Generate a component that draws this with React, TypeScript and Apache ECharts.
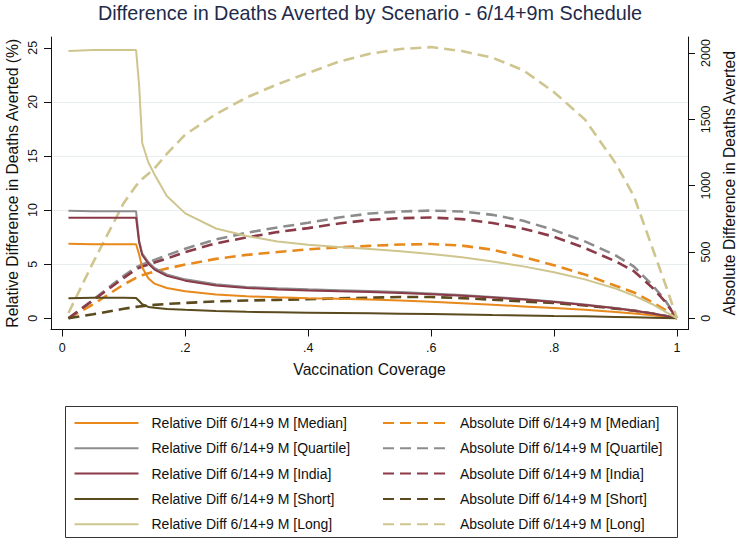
import React, { useEffect, useRef } from "react";
import * as echarts from "echarts";

const coverage = [0.01, 0.05, 0.1, 0.12, 0.125, 0.13, 0.14, 0.15, 0.17, 0.2, 0.25, 0.3, 0.35, 0.4, 0.45, 0.5, 0.55, 0.6, 0.65, 0.7, 0.75, 0.8, 0.85, 0.9, 0.93, 0.96, 0.98, 1.0];

// Relative difference (%) - left axis
const relMedian = [6.9, 6.85, 6.85, 6.85, 5.9, 4.7, 3.7, 3.2, 2.8, 2.5, 2.2, 2.03, 1.94, 1.86, 1.8, 1.74, 1.65, 1.54, 1.4, 1.25, 1.1, 0.95, 0.78, 0.58, 0.45, 0.28, 0.15, 0];
const relQuartile = [9.95, 9.9, 9.9, 9.9, 7.2, 6.0, 5.2, 4.65, 4.05, 3.6, 3.15, 2.9, 2.78, 2.68, 2.6, 2.52, 2.42, 2.3, 2.15, 1.98, 1.78, 1.55, 1.28, 0.95, 0.72, 0.45, 0.25, 0];
const relIndia = [9.3, 9.3, 9.3, 9.3, 7.0, 5.85, 5.05, 4.5, 3.92, 3.48, 3.03, 2.8, 2.67, 2.57, 2.49, 2.42, 2.33, 2.22, 2.08, 1.92, 1.73, 1.5, 1.24, 0.92, 0.7, 0.44, 0.24, 0];
const relShort = [1.85, 1.9, 1.9, 1.88, 1.6, 1.3, 1.05, 0.97, 0.87, 0.78, 0.68, 0.6, 0.56, 0.52, 0.49, 0.46, 0.43, 0.4, 0.36, 0.31, 0.27, 0.22, 0.18, 0.13, 0.1, 0.06, 0.03, 0];
const relLong = [24.7, 24.8, 24.8, 24.8, 21.5, 16.2, 14.4, 13.3, 11.3, 9.7, 8.3, 7.6, 7.1, 6.8, 6.6, 6.4, 6.2, 5.95, 5.65, 5.25, 4.8, 4.25, 3.6, 2.75, 2.1, 1.3, 0.65, 0];

// Absolute difference (deaths) - right axis
const absMedian = [0, 105, 255, 305, 315, 325, 340, 352, 375, 405, 448, 478, 500, 520, 535, 546, 556, 560, 548, 517, 462, 400, 330, 245, 195, 120, 65, 0];
const absQuartile = [0, 140, 320, 385, 395, 405, 422, 440, 475, 525, 595, 645, 685, 720, 760, 790, 805, 812, 805, 780, 735, 665, 580, 475, 390, 250, 140, 0];
const absIndia = [0, 135, 305, 370, 380, 390, 405, 420, 450, 500, 565, 610, 650, 680, 715, 742, 755, 760, 748, 718, 675, 615, 530, 430, 355, 230, 130, 0];
const absShort = [0, 30, 72, 86, 89, 92, 97, 101, 108, 116, 127, 134, 139, 144, 150, 155, 160, 160, 152, 140, 127, 115, 97, 73, 58, 36, 19, 0];
const absLong = [40, 420, 870, 1000, 1025, 1050, 1090, 1130, 1240, 1385, 1540, 1665, 1765, 1850, 1935, 1995, 2030, 2045, 2015, 1965, 1870, 1705, 1500, 1170, 920, 530, 270, 0];

const scenarios = ["Median", "Quartile", "India", "Short", "Long"];
const colors = ["#E8891C", "#8C8C8C", "#8B3A48", "#5A4A1E", "#CFC58F"];
const relData = [relMedian, relQuartile, relIndia, relShort, relLong];
const absData = [absMedian, absQuartile, absIndia, absShort, absLong];

const leftTicks = [0, 5, 10, 15, 20, 25];
const rightTicks = [0, 500, 1000, 1500, 2000];
const xTicks = [0, 0.2, 0.4, 0.6, 0.8, 1];

const FONT = "'Liberation Sans', Arial, sans-serif";

export default function App() {
  const ref = useRef<HTMLDivElement>(null);
  useEffect(() => {
    if (!ref.current) return;
    const chart = echarts.init(ref.current, null, { renderer: "svg" });
    const relNames = scenarios.map((s) => `Relative Diff 6/14+9 M [${s}]`);
    const absNames = scenarios.map((s) => `Absolute Diff 6/14+9 M [${s}]`);
    const series: any[] = [];
    scenarios.forEach((s, i) => {
      series.push({
        name: relNames[i],
        type: "line",
        yAxisIndex: 0,
        symbol: "none",
        data: coverage.map((x, k) => [x, relData[i][k]]),
        lineStyle: { color: colors[i], width: 2 },
        itemStyle: { color: colors[i] },
        z: 3,
      });
    });
    scenarios.forEach((s, i) => {
      series.push({
        name: absNames[i],
        type: "line",
        yAxisIndex: 1,
        symbol: "none",
        data: coverage.map((x, k) => [x, absData[i][k]]),
        lineStyle: { color: colors[i], width: 2.6, type: [11, 6] },
        itemStyle: { color: colors[i] },
        z: 2,
      });
    });
    const axisLineStyle = { color: "#111", width: 1 };
    const legendCommon = {
      orient: "vertical",
      top: 416,
      itemWidth: 64,
      itemHeight: 14,
      itemGap: 11.3,
      padding: 0,
      selectedMode: false,
      itemStyle: { opacity: 0, borderWidth: 0 },
      textStyle: { fontFamily: FONT, fontSize: 14, color: "#111", lineHeight: 14, padding: [0, 0, 0, 8] },
    };
    const legendBox = {
      id: "legendBox",
      type: "rect",
      shape: { x: 65.5, y: 406.5, width: 612, height: 131 },
      style: { fill: "none", stroke: "#333", lineWidth: 1 },
      silent: true,
    };
    chart.setOption({
      animation: false,
      backgroundColor: "#fff",
      textStyle: { fontFamily: FONT },
      title: {
        text: "Difference in Deaths Averted by Scenario - 6/14+9m Schedule",
        left: "center",
        top: 3,
        padding: 0,
        textStyle: { fontFamily: FONT, fontSize: 19.8, fontWeight: "normal", color: "#1E2A4A" },
      },
      grid: { left: 51, top: 37, width: 637, height: 292.5, containLabel: false, outerBoundsMode: "none" },
      xAxis: {
        type: "value",
        min: -0.0184,
        max: 1.0179,
        name: "Vaccination Coverage",
        nameLocation: "middle",
        nameGap: 32,
        nameTextStyle: { fontFamily: FONT, fontSize: 15.7, color: "#111" },
        axisLine: { show: true, onZero: false, lineStyle: axisLineStyle },
        axisTick: { show: true, length: 7, customValues: xTicks, lineStyle: axisLineStyle },
        axisLabel: {
          customValues: xTicks,
          margin: 12,
          fontSize: 12.5,
          color: "#111",
          fontFamily: FONT,
          formatter: (v: number) => (v === 0 ? "0" : v === 1 ? "1" : String(+v.toFixed(1)).replace("0.", ".")),
        },
        splitLine: { show: false },
      },
      yAxis: [
        {
          type: "value",
          position: "left",
          min: -1.035,
          max: 26.0,
          name: "Relative Difference in Deaths Averted (%)",
          nameLocation: "middle",
          nameRotate: 90,
          nameGap: 31,
          nameMoveOverlap: false,
          nameTextStyle: { fontFamily: FONT, fontSize: 15.7, color: "#111" },
          axisLine: { show: true, onZero: false, lineStyle: axisLineStyle },
          axisTick: { show: true, length: 7, customValues: leftTicks, lineStyle: axisLineStyle },
          axisLabel: { show: false },
          splitLine: { show: true, showMinLine: false, showMaxLine: false, lineStyle: { color: "#E9EEF0", width: 1.2 } },
        },
        {
          type: "value",
          position: "right",
          min: -84.5,
          max: 2121,
          name: "Absolute Difference in Deaths Averted",
          nameLocation: "middle",
          nameRotate: 90,
          nameGap: 33,
          nameMoveOverlap: false,
          nameTextStyle: { fontFamily: FONT, fontSize: 15.7, color: "#111" },
          axisLine: { show: true, onZero: false, lineStyle: axisLineStyle },
          axisTick: { show: true, length: 7, customValues: rightTicks, lineStyle: axisLineStyle },
          axisLabel: { show: false },
          splitLine: { show: false },
        },
      ],
      legend: [
        { ...legendCommon, left: 73.5, data: relNames },
        { ...legendCommon, left: 382, data: absNames },
      ],
      graphic: [legendBox],
      series,
    });

    // Rotated tick labels for both value axes, positioned through the axes' own scales
    const tickText = (id: string, x: number, y: number, text: string) => ({
      id,
      type: "text",
      x,
      y,
      rotation: Math.PI / 2,
      silent: true,
      style: {
        text,
        fontSize: 12.5,
        fontFamily: FONT,
        fill: "#111",
        align: "center",
        verticalAlign: "middle",
        textAlign: "center",
        textVerticalAlign: "middle",
      },
    });
    const labels: any[] = [legendBox];
    leftTicks.forEach((v, i) => {
      const py = chart.convertToPixel({ yAxisIndex: 0 }, v) as number;
      labels.push(tickText("l" + i, 33, py, String(v)));
    });
    rightTicks.forEach((v, i) => {
      const py = chart.convertToPixel({ yAxisIndex: 1 }, v) as number;
      labels.push(tickText("r" + i, 706, py, String(v)));
    });
    chart.setOption({ graphic: labels });
    return () => chart.dispose();
  }, []);
  return <div ref={ref} style={{ position: "fixed", left: 0, top: 0, width: 740, height: 540 }} />;
}
